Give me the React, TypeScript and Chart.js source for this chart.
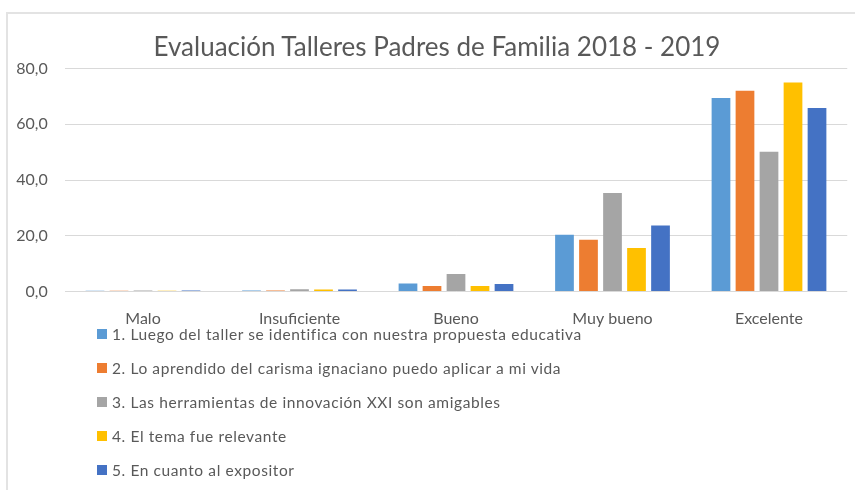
import React, { useEffect, useRef } from "react";
import { Chart, registerables } from "chart.js";

Chart.register(...registerables);

const title = "Evaluación Talleres Padres de Familia 2018 - 2019";
const categories = ["Malo", "Insuficiente", "Bueno", "Muy bueno", "Excelente"];
const seriesNames = [
  "1. Luego del taller se identifica con nuestra propuesta educativa",
  "2. Lo aprendido del carisma ignaciano puedo aplicar a mi vida",
  "3. Las herramientas de innovación XXI son amigables",
  "4. El tema fue relevante",
  "5. En cuanto al expositor",
];
const serie1 = [0.3, 0.4, 2.9, 20.4, 69.4];
const serie2 = [0.3, 0.4, 2.0, 18.6, 72.0];
const serie3 = [0.4, 0.8, 6.3, 35.3, 50.1];
const serie4 = [0.3, 0.7, 2.0, 15.6, 75.0];
const serie5 = [0.4, 0.7, 2.7, 23.7, 65.8];
const seriesValues = [serie1, serie2, serie3, serie4, serie5];
const seriesColors = ["#5B9BD5", "#ED7D31", "#A5A5A5", "#FFC000", "#4472C4"];
const yMin = 0;
const yMax = 80;
const yStep = 20;

const FONT = "Lato, 'Open Sans', sans-serif";
const TEXT = "#595959";

export default function App() {
  const ref = useRef<HTMLCanvasElement | null>(null);

  useEffect(() => {
    if (!ref.current) return;
    const chart = new Chart(ref.current, {
      type: "bar",
      data: {
        labels: categories,
        datasets: seriesValues.map((vals, i) => ({
          label: seriesNames[i],
          data: vals,
          backgroundColor: seriesColors[i],
          borderWidth: 0,
          categoryPercentage: 0.767,
          barPercentage: 0.78,
        })),
      },
      options: {
        animation: false,
        responsive: false,
        maintainAspectRatio: false,
        layout: { padding: { left: 8, right: 7.75, top: 68.5, bottom: 0 } },
        plugins: {
          legend: { display: false },
          title: { display: false },
          tooltip: { enabled: false },
        },
        scales: {
          x: {
            grid: { display: false },
            border: { display: false },
            ticks: {
              color: TEXT,
              font: { family: FONT, size: 16 },
              padding: 10,
              maxRotation: 0,
            },
            afterFit: (s: any) => {
              s.height = 198.5;
            },
          },
          y: {
            min: yMin,
            max: yMax,
            grid: { color: "#d9d9d9", drawTicks: false, lineWidth: 1 },
            border: { display: false },
            ticks: {
              stepSize: yStep,
              color: TEXT,
              font: { family: FONT, size: 16 },
              padding: 17,
              callback: (v: any) => Number(v).toFixed(1).replace(".", ","),
            },
            afterFit: (s: any) => {
              s.width = 56.75;
            },
          },
        },
      },
    });
    return () => chart.destroy();
  }, []);

  return (
    <div
      style={{
        position: "fixed",
        left: 0,
        top: 0,
        width: 855,
        height: 490,
        background: "#fff",
        overflow: "hidden",
        fontFamily: FONT,
      }}
    >
      <div
        style={{
          position: "absolute",
          left: 6,
          top: 12,
          width: 900,
          height: 600,
          borderTop: "2px solid #e3e3e3",
          borderLeft: "2px solid #e3e3e3",
        }}
      />
      <canvas
        ref={ref}
        width={855}
        height={490}
        style={{ position: "absolute", left: 0, top: 0, width: 855, height: 490 }}
      />
      <div
        style={{
          position: "absolute",
          left: 0,
          width: 874,
          top: 30,
          textAlign: "center",
          fontSize: 26,
          lineHeight: "32px",
          color: TEXT,
          whiteSpace: "nowrap",
        }}
      >
        {title}
      </div>
      <div style={{ position: "absolute", left: 97, top: 317 }}>
        {seriesNames.map((n, i) => (
          <div
            key={n}
            style={{
              display: "flex",
              alignItems: "center",
              height: 34,
              fontSize: 15.5,
              letterSpacing: 0.6,
              color: TEXT,
              whiteSpace: "nowrap",
            }}
          >
            <span
              style={{
                display: "inline-block",
                width: 10,
                height: 10,
                background: seriesColors[i],
                marginRight: 5,
              }}
            />
            {n}
          </div>
        ))}
      </div>
    </div>
  );
}
